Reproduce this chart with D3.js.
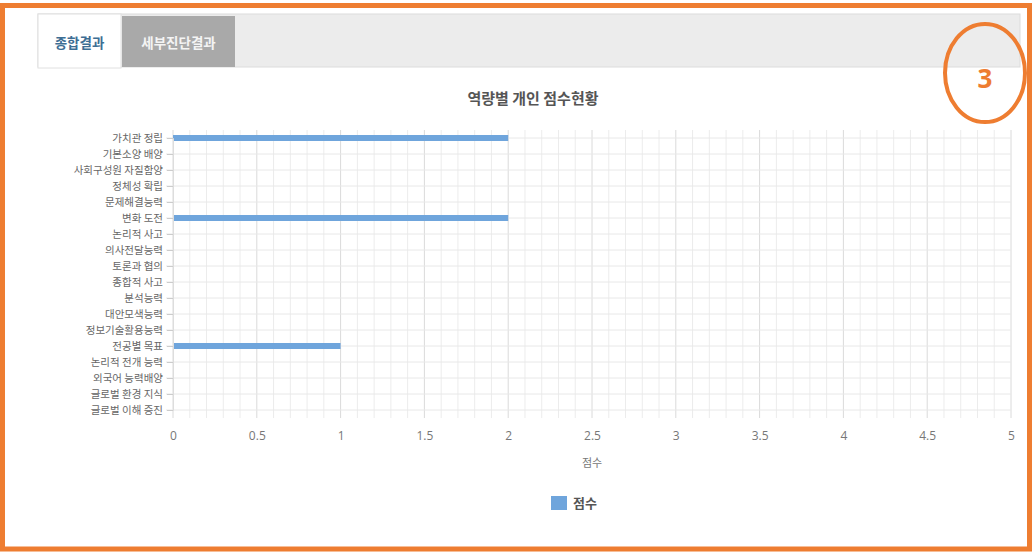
<!DOCTYPE html>
<html><head><meta charset="utf-8">
<script src="https://cdn.jsdelivr.net/npm/d3@7"></script>
<style>
html,body{margin:0;padding:0;background:#fff;}
svg{display:block;font-family:"Noto Sans CJK KR","Noto Sans",sans-serif;}
</style></head>
<body>
<svg id="c" width="1034" height="552"></svg>
<script>
const categories = ["가치관 정립","기본소양 배양","사회구성원 자질함양","정체성 확립","문제해결능력","변화 도전","논리적 사고","의사전달능력","토론과 협의","종합적 사고","분석능력","대안모색능력","정보기술활용능력","전공별 목표","논리적 전개 능력","외국어 능력배양","글로벌 환경 지식","글로벌 이해 증진"];
const scores = [2,0,0,0,0,2,0,0,0,0,0,0,0,1,0,0,0,0];
const xTicks = [0,0.5,1,1.5,2,2.5,3,3.5,4,4.5,5];
const tabs = ["종합결과","세부진단결과"];
const title = "역량별 개인 점수현황";
const seriesName = "점수";
const axisTitle = "점수";
const badge = "3";

const svg = d3.select("#c");
const orange = "#ee7d31";

// tab bar
svg.append("rect").attr("x",38).attr("y",14).attr("width",982).attr("height",53).attr("fill","#ececec").attr("stroke","#dcdcdc");
svg.append("rect").attr("x",38).attr("y",14).attr("width",83).attr("height",54).attr("fill","#fff").attr("stroke","#e0e0e0");
svg.append("rect").attr("x",122).attr("y",16).attr("width",113).attr("height",51).attr("fill","#a9a9a9");
svg.append("text").attr("x",79.5).attr("y",48).attr("text-anchor","middle").attr("font-size",13.5).attr("fill","#3d6e94").attr("font-weight","bold").text(tabs[0]);
svg.append("text").attr("x",178.5).attr("y",48).attr("text-anchor","middle").attr("font-size",13.5).attr("fill","#f4f4f4").attr("font-weight","bold").text(tabs[1]);

// title
svg.append("text").attr("x",533).attr("y",104).attr("text-anchor","middle").attr("font-size",15).attr("font-weight","bold").attr("fill","#555").text(title);

const x = d3.scaleLinear().domain([0,5]).range([173,1011]);
const y = d3.scalePoint().domain(categories).range([138,410]);

const g = svg.append("g");
// vertical grid (minor every 0.1, major every 0.5)
g.selectAll("line.minor").data(d3.range(0,51).map(i=>i/10)).join("line")
  .attr("x1",d=>x(d)).attr("x2",d=>x(d)).attr("y1",130).attr("y2",418)
  .attr("stroke",d=>Math.abs(d*2-Math.round(d*2))<1e-6?"#dadada":"#ececec").attr("stroke-width",1);
// horizontal grid
g.selectAll("line.h").data(categories).join("line")
  .attr("x1",166).attr("x2",1011).attr("y1",d=>y(d)).attr("y2",d=>y(d))
  .attr("stroke","#e8e8e8");

// bars
g.selectAll("rect.bar").data(categories).join("rect")
  .attr("x",x(0)).attr("y",d=>y(d)-3)
  .attr("width",(d,i)=>x(scores[i])-x(0)).attr("height",6)
  .attr("fill","#6fa5dc");

// y axis
const ya = svg.append("g").attr("transform","translate(173,0)").call(d3.axisLeft(y).tickSize(6).tickPadding(4));
ya.select(".domain").attr("stroke","#ddd");
ya.selectAll(".tick line").attr("stroke","#ccc");
ya.selectAll("text").attr("font-size",10.5).attr("fill","#666").attr("font-family","'Noto Sans CJK KR',sans-serif");

// x axis
const xa = svg.append("g").attr("transform","translate(0,418)").call(d3.axisBottom(x).tickValues(xTicks).tickFormat(d3.format("")).tickSize(0).tickPadding(13));
xa.select(".domain").remove();
xa.selectAll("text").attr("font-size",12).attr("fill","#777").attr("font-family","'Open Sans','Noto Sans',sans-serif");

svg.append("text").attr("x",592).attr("y",467).attr("text-anchor","middle").attr("font-size",11).attr("fill","#777").text(axisTitle);

// legend
svg.append("rect").attr("x",551).attr("y",496).attr("width",16).attr("height",14).attr("fill","#6fa5dc");
svg.append("text").attr("x",573).attr("y",508).attr("font-size",13).attr("font-weight","bold").attr("fill","#555").text(seriesName);

// badge circle
svg.append("ellipse").attr("cx",985).attr("cy",73).attr("rx",40).attr("ry",49).attr("fill","none").attr("stroke",orange).attr("stroke-width",4);
svg.append("text").attr("x",985).attr("y",88).attr("text-anchor","middle").attr("font-size",26).attr("font-weight","bold").attr("fill",orange).attr("font-family","'Open Sans',sans-serif").text(badge);

// outer orange border
svg.append("rect").attr("x",2.5).attr("y",5.5).attr("width",1027).attr("height",543.5).attr("fill","none").attr("stroke",orange).attr("stroke-width",5);
</script>
</body></html>
